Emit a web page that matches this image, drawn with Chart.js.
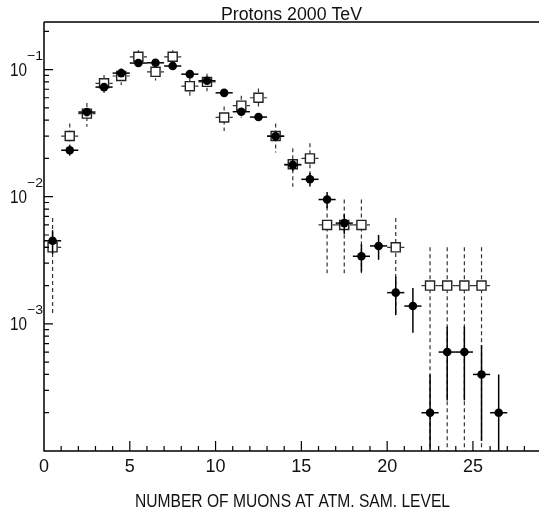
<!DOCTYPE html>
<html>
<head>
<meta charset="utf-8">
<script src="https://cdn.jsdelivr.net/npm/chart.js@4.4.1/dist/chart.umd.min.js"></script>
<style>
  html, body { margin: 0; padding: 0; background: #fff; overflow: hidden; }
</style>
</head>
<body>
<canvas id="muonChart" width="539" height="516"></canvas>
<script>
  // bin centres (number of muons)
  const bins = [0.5, 1.5, 2.5, 3.5, 4.5, 5.5, 6.5, 7.5, 8.5, 9.5, 10.5, 11.5, 12.5, 13.5,
                14.5, 15.5, 16.5, 17.5, 18.5, 19.5, 20.5, 21.5, 22.5, 23.5, 24.5, 25.5, 26.5];

  // filled circles
  const filledVals = [0.0045, 0.0232, 0.0463, 0.0728, 0.0938, 0.1125, 0.113, 0.1066, 0.092, 0.0816,
                      0.0656, 0.0466, 0.0423, 0.0299, 0.0178, 0.0137, 0.0095, 0.0062, 0.0034, 0.0041,
                      0.00176, 0.00138, 0.0002, 0.0006, 0.0006, 0.0004, 0.0002];
  const filledErr = [0.00095, 0.00215, 0.00304, 0.00382, 0.00433, 0.00474, 0.00475, 0.00462, 0.00429, 0.00404,
                     0.00362, 0.00305, 0.00291, 0.00245, 0.00189, 0.00166, 0.00138, 0.00111, 0.00082, 0.00091,
                     0.00059, 0.00053, 0.0002, 0.00035, 0.00035, 0.00028, 0.0002];

  // open squares
  const openVals = [0.004, 0.030, 0.045, 0.078, 0.089, 0.126, 0.096, 0.126, 0.074, 0.080,
                    0.042, 0.052, 0.060, 0.030, 0.018, 0.020, 0.006, 0.006, 0.006, null,
                    0.004, null, 0.002, 0.002, 0.002, 0.002, null];
  const openErr = [0.0028, 0.0077, 0.0095, 0.0125, 0.0133, 0.0159, 0.0139, 0.0159, 0.0122, 0.0126,
                   0.0092, 0.0102, 0.011, 0.0077, 0.006, 0.0063, 0.0035, 0.0035, 0.0035, null,
                   0.0028, null, 0.002, 0.002, 0.002, 0.002, null];

  const xTickLabels = [0, 5, 10, 15, 20, 25];
  const yDecades = [-1, -2, -3];
  const titleText = 'Protons 2000 TeV';
  const xTitle = 'NUMBER OF MUONS AT ATM. SAM. LEVEL';

  const toPoints = (vals) => bins.map((b, i) => ({ x: b, y: vals[i] })).filter(p => p.y != null);

  function fitText(ctx, str, cx, base, font, width, align) {
    ctx.save();
    ctx.font = font;
    const m = ctx.measureText(str).width;
    const sx = width ? width / m : 1;
    ctx.translate(cx, base);
    ctx.scale(sx, 1);
    ctx.textAlign = align || 'center';
    ctx.textBaseline = 'alphabetic';
    ctx.fillStyle = '#111';
    ctx.fillText(str, 0, 0);
    ctx.restore();
  }

  // error bars drawn just under each dataset's markers
  const errorBars = {
    id: 'errorBars',
    beforeDatasetDraw(chart, args) {
      const { ctx, chartArea: a, scales: { x, y } } = chart;
      const filled = args.index === 0;
      const vals = filled ? filledVals : openVals;
      const errs = filled ? filledErr : openErr;
      ctx.save();
      ctx.beginPath();
      ctx.rect(a.left, a.top, a.right - a.left, a.bottom - a.top);
      ctx.clip();
      ctx.strokeStyle = filled ? '#000' : '#333';
      ctx.lineWidth = filled ? 1.5 : 1.2;
      ctx.setLineDash(filled ? [] : [4, 3]);
      bins.forEach((b, i) => {
        const v = vals[i];
        if (v == null) return;
        const e = errs[i];
        const px = x.getPixelForValue(b);
        const py = y.getPixelForValue(v);
        const top = y.getPixelForValue(v + e);
        const bot = v - e > y.min ? y.getPixelForValue(v - e) : a.bottom + 2;
        ctx.beginPath();
        ctx.moveTo(px, top); ctx.lineTo(px, bot);
        ctx.stroke();
        ctx.beginPath();
        ctx.moveTo(x.getPixelForValue(b - 0.5), py); ctx.lineTo(x.getPixelForValue(b + 0.5), py);
        ctx.stroke();
      });
      ctx.restore();
    }
  };

  // frame, inward ticks, labels
  const frame = {
    id: 'frame',
    afterDraw(chart) {
      const { ctx, chartArea: a, scales: { x, y } } = chart;
      ctx.save();
      ctx.strokeStyle = '#000';
      ctx.lineWidth = 1.5;
      ctx.beginPath();
      ctx.moveTo(a.left, a.top); ctx.lineTo(a.right, a.top);
      ctx.moveTo(a.left, a.top); ctx.lineTo(a.left, a.bottom);
      ctx.lineTo(a.right, a.bottom);
      ctx.stroke();

      ctx.lineWidth = 1.2;
      ctx.beginPath();
      for (let v = 1; v <= Math.floor(x.max); v++) {
        const px = x.getPixelForValue(v);
        const len = v % 5 === 0 ? 10 : 5;
        ctx.moveTo(px, a.bottom); ctx.lineTo(px, a.bottom - len);
      }
      for (let d = -4; d <= -1; d++) {
        for (let k = 1; k <= 9; k++) {
          const v = k * Math.pow(10, d);
          if (v <= y.min || v > y.max) continue;
          const py = y.getPixelForValue(v);
          const len = k === 1 ? 9 : 5;
          ctx.moveTo(a.left, py); ctx.lineTo(a.left + len, py);
        }
      }
      ctx.stroke();
      ctx.restore();

      xTickLabels.forEach(t => {
        fitText(ctx, String(t), x.getPixelForValue(t), a.bottom + 20.5, '18px "Liberation Sans"');
      });
      yDecades.forEach(d => {
        const py = y.getPixelForValue(Math.pow(10, d));
        fitText(ctx, '10', 27, py + 6.5, '18px "Liberation Sans"', 17, 'right');
        fitText(ctx, '\u2212' + Math.abs(d), 27, py - 9.5, '13px "Liberation Sans"', 16, 'left');
      });
      fitText(ctx, titleText, (a.left + a.right) / 2, 20, '18px "Liberation Sans"', 141);
      fitText(ctx, xTitle, 292.5, 506.5, '18px "Liberation Sans"', 315);
    }
  };

  new Chart(document.getElementById('muonChart'), {
    type: 'scatter',
    data: {
      datasets: [
        { label: 'filled', data: toPoints(filledVals), pointStyle: 'circle', pointRadius: 4.3,
          backgroundColor: '#000', borderColor: '#000', borderWidth: 0 },
        { label: 'open', data: toPoints(openVals), pointStyle: 'rect', pointRadius: 6.4,
          backgroundColor: '#fff', borderColor: '#222', borderWidth: 1.4 }
      ]
    },
    options: {
      responsive: false,
      devicePixelRatio: 1,
      animation: false,
      events: [],
      layout: { autoPadding: false, padding: { left: 44, top: 22, right: 0, bottom: 65 } },
      scales: {
        x: { type: 'linear', display: false, min: 0, max: 28.85 },
        y: { type: 'logarithmic', display: false, min: 0.0001, max: 0.2366 }
      },
      plugins: { legend: { display: false }, tooltip: { enabled: false } }
    },
    plugins: [errorBars, frame]
  });
</script>
</body>
</html>
